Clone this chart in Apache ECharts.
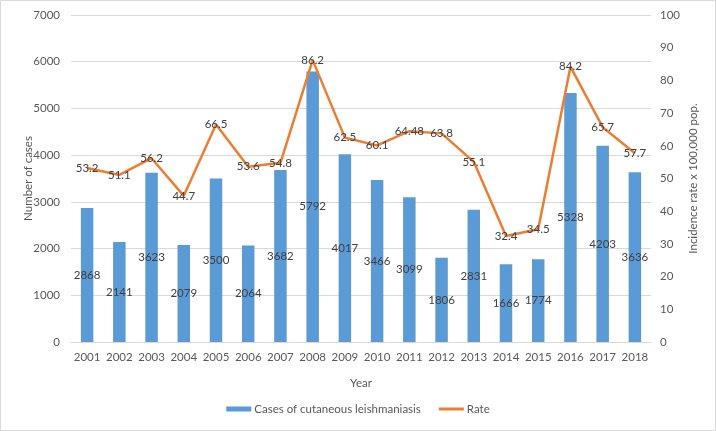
<!DOCTYPE html>
<html>
<head>
<meta charset="utf-8">
<script src="https://cdn.jsdelivr.net/npm/echarts@6/dist/echarts.min.js"></script>
<style>html,body{margin:0;padding:0;background:#fff}#c{width:716px;height:431px}</style>
</head>
<body>
<div id="c"></div>
<script>
const years = ['2001','2002','2003','2004','2005','2006','2007','2008','2009','2010','2011','2012','2013','2014','2015','2016','2017','2018'];
const cases = [2868,2141,3623,2079,3500,2064,3682,5792,4017,3466,3099,1806,2831,1666,1774,5328,4203,3636];
const rate = [53.2,51.1,56.2,44.7,66.5,53.6,54.8,86.2,62.5,60.1,64.48,63.8,55.1,32.4,34.5,84.2,65.7,57.7];
const seriesNames = ['Cases of cutaneous leishmaniasis','Rate'];

const FONT = 'Lato';
const txt = '#595959';
const chart = echarts.init(document.getElementById('c'));
chart.setOption({
  animation: false,
  textStyle: {fontFamily: FONT},
  grid: {left: 71, right: 65, top: 15, bottom: 89},
  graphic: [{type:'rect', shape:{x:0.5,y:0.5,width:715,height:430}, style:{fill:'none', stroke:'#D9D9D9', lineWidth:1}, silent:true}],
  legend: {
    bottom: 11, left: 'center', itemGap: 18, itemWidth: 25, itemHeight: 5,
    textStyle: {color: txt, fontSize: 11.5, fontFamily: FONT, padding: [0,0,0,-2]},
    data: [{name: seriesNames[0], icon: 'rect'}, {name: seriesNames[1], icon: 'path://M0,0H25V3H0Z'}]
  },
  xAxis: {
    type: 'category', data: years,
    name: 'Year', nameLocation: 'middle', nameGap: 35,
    nameTextStyle: {color: txt, fontSize: 11.5, fontFamily: FONT},
    axisLine: {lineStyle: {color: '#D9D9D9'}},
    axisTick: {show: false},
    axisLabel: {color: txt, fontSize: 11.5, margin: 9, interval: 0, fontFamily: FONT}
  },
  yAxis: [{
    type: 'value', min: 0, max: 7000, interval: 1000,
    name: 'Number of cases', nameLocation: 'middle', nameGap: 37, nameRotate: 90, nameMoveOverlap: false,
    nameTextStyle: {color: txt, fontSize: 11.5, fontFamily: FONT},
    axisLine: {show: false}, axisTick: {show: false},
    axisLabel: {color: txt, fontSize: 11.5, margin: 11, fontFamily: FONT, formatter: v => String(v)},
    splitLine: {lineStyle: {color: '#D9D9D9'}}
  }, {
    type: 'value', min: 0, max: 100, interval: 10,
    name: 'Incidence rate x 100,000 pop.', nameLocation: 'middle', nameGap: 36, nameRotate: 90, nameMoveOverlap: false,
    nameTextStyle: {color: txt, fontSize: 11.5, fontFamily: FONT},
    axisLine: {show: false}, axisTick: {show: false},
    axisLabel: {color: txt, fontSize: 11.5, margin: 9, fontFamily: FONT},
    splitLine: {show: false}
  }],
  series: [{
    name: seriesNames[0], type: 'bar', data: cases, yAxisIndex: 0,
    barWidth: 12.5, itemStyle: {color: '#5B9BD5'},
    label: {show: true, position: 'inside', color: '#404040', fontSize: 11.5, fontFamily: FONT, formatter: p => String(p.value)}
  }, {
    name: seriesNames[1], type: 'line', data: rate, yAxisIndex: 1,
    showSymbol: true, symbol: 'circle', symbolSize: 0.01,
    lineStyle: {color: '#ED7D31', width: 2.5}, itemStyle: {color: '#ED7D31'},
    label: {show: true, position: 'inside', color: '#404040', fontSize: 11.5, fontFamily: FONT, formatter: p => String(p.value)}
  }]
});
</script>
</body>
</html>
